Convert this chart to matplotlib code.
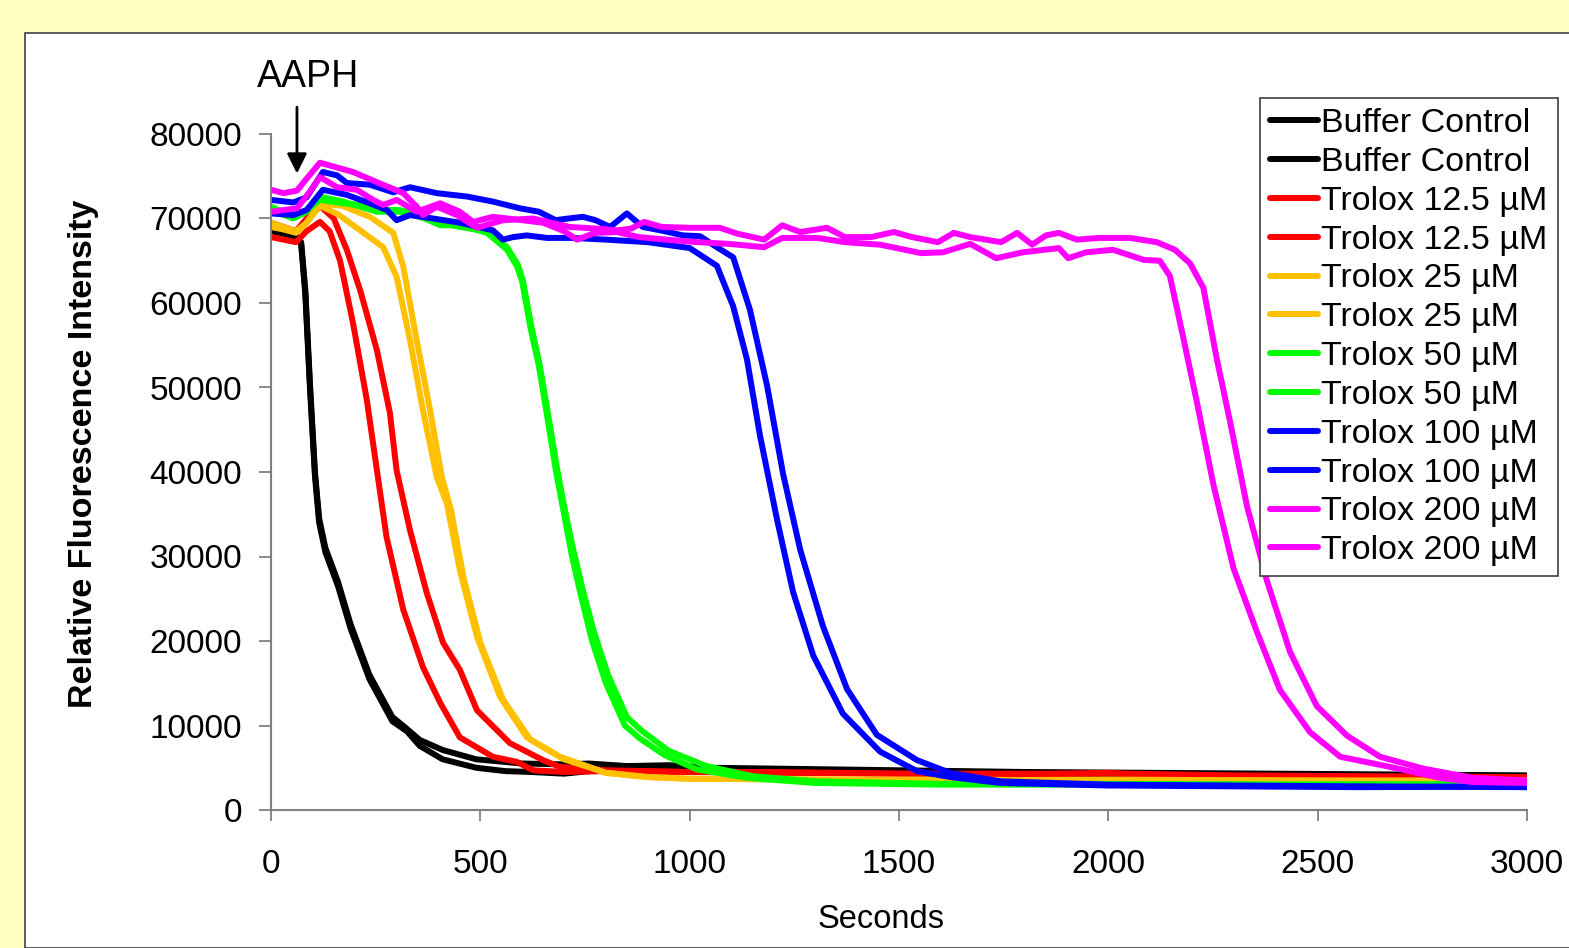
import matplotlib
matplotlib.use("Agg")
import matplotlib.pyplot as plt
from matplotlib.patches import Rectangle

plt.rcParams['font.family'] = ['Liberation Sans', 'DejaVu Sans']

# ---- data (seconds, relative fluorescence) ----
t_buffer1 = [0, 30, 60, 72, 82, 93, 105, 115, 130, 160, 190, 235, 290, 325, 355, 410, 490,
             560, 620, 700, 800, 900, 1000, 1200, 1500, 1800, 2100, 2400, 2700, 3000]
y_buffer1 = [69000, 68500, 68000, 67000, 61000, 50000, 39500, 34000, 30500, 26500, 21500, 15500,
             10500, 9300, 7600, 6000, 5000, 4600, 4500, 4300, 4800, 4600, 4700, 4600, 4400, 4300,
             4200, 4100, 4100, 4000]
t_buffer2 = [0, 30, 60, 72, 82, 93, 105, 115, 130, 160, 190, 235, 290, 320, 355, 410, 490,
             600, 700, 760, 850, 950, 1050, 1200, 1500, 1800, 2100, 2400, 2700, 3000]
y_buffer2 = [68500, 68200, 67800, 67200, 61500, 50500, 40000, 34500, 31000, 27000, 22000, 16000,
             11000, 9800, 8300, 7100, 6000, 5500, 5400, 5500, 5200, 5300, 5000, 4900, 4700, 4500,
             4400, 4300, 4200, 4100]

t_tr12a = [0, 30, 60, 85, 117, 140, 165, 196, 229, 253, 276, 316, 363, 404, 451, 530, 587, 626,
           700, 800, 1000, 1200, 1500, 1800, 2000, 2100, 2400, 2700, 3000]
y_tr12a = [67800, 67500, 67200, 68500, 69600, 68500, 65000, 57600, 48500, 40200, 32300, 23700,
           16900, 12700, 8600, 6300, 5700, 4700, 4500, 4600, 4500, 4400, 4300, 4200, 4400, 4100,
           4000, 3900, 3800]
t_tr12b = [0, 30, 60, 85, 117, 150, 181, 213, 253, 284, 300, 332, 372, 411, 451, 492, 571, 650,
           690, 800, 1000, 1200, 1500, 1800, 2050, 2300, 2600, 3000]
y_tr12b = [69500, 69000, 68500, 70000, 71500, 70000, 66300, 61500, 54400, 47000, 40200, 33100,
           25700, 19800, 16600, 11800, 7900, 5900, 5100, 4700, 4500, 4500, 4300, 4300, 4300, 4100,
           4000, 3900]

t_tr25a = [0, 30, 60, 85, 117, 160, 213, 268, 300, 332, 363, 396, 420, 451, 492, 547, 611, 690,
           800, 900, 1000, 1300, 1600, 2000, 2400, 2700, 3000]
y_tr25a = [69500, 69000, 68500, 69500, 71500, 70500, 68600, 66600, 63100, 55600, 47300, 39400,
           36300, 28400, 20500, 13400, 8600, 6300, 4400, 3900, 3700, 3600, 3500, 3600, 3500, 3400,
           3500]
t_tr25b = [0, 30, 60, 85, 117, 170, 236, 292, 316, 348, 380, 408, 430, 460, 500, 555, 620, 700,
           800, 900, 1000, 1300, 1600, 2000, 2400, 2700, 3000]
y_tr25b = [69000, 68700, 68300, 69500, 71800, 71500, 70200, 68300, 64300, 55600, 47300, 39400,
           35500, 27500, 19800, 13000, 8300, 6000, 4400, 3900, 3700, 3600, 3600, 3500, 3500, 3500,
           3500]

t_tr50a = [0, 53, 85, 117, 172, 213, 253, 308, 340, 404, 451, 516, 564, 588, 600, 620, 640, 660,
           681, 700, 719, 742, 767, 800, 845, 880, 940, 1017, 1137, 1300, 1600, 2000, 2400, 3000]
y_tr50a = [71400, 70200, 71000, 72200, 71800, 71600, 71000, 71000, 70600, 69200, 69200, 68300,
           66300, 64300, 62500, 57000, 52500, 46500, 40000, 35000, 30000, 25000, 20000, 15000,
           10000, 8500, 6500, 4800, 3800, 3200, 3000, 3000, 3000, 3000]
t_tr50b = [0, 53, 85, 117, 172, 213, 253, 308, 340, 404, 451, 516, 564, 590, 602, 622, 642, 662,
           683, 702, 722, 746, 772, 805, 850, 885, 950, 1040, 1150, 1300, 1600, 2000, 2400, 3000]
y_tr50b = [71000, 70000, 70800, 72600, 72000, 71400, 70800, 70800, 70400, 69500, 69000, 68500,
           66600, 64500, 62600, 57200, 52600, 46800, 40500, 35500, 30800, 25800, 21000, 16000,
           11000, 9400, 7000, 5200, 4000, 3400, 3100, 3100, 3000, 3100]

t_tr100a = [0, 53, 85, 124, 181, 236, 277, 300, 332, 387, 451, 530, 554, 578, 611, 659, 720, 800,
            900, 1000, 1025, 1065, 1104, 1137, 1168, 1209, 1247, 1295, 1366, 1455, 1543, 1622, 1741,
            2000, 2300, 2600, 3000]
y_tr100a = [70600, 70400, 71000, 73400, 72800, 71800, 71000, 69800, 70400, 70000, 69500, 68600,
            67500, 67800, 68000, 67700, 67700, 67500, 67200, 66500, 65700, 64400, 59600, 53300,
            44300, 34300, 25800, 18300, 11400, 6900, 4600, 3900, 3200, 2900, 2800, 2700, 2800]
t_tr100b = [0, 53, 85, 124, 158, 181, 236, 292, 332, 396, 468, 530, 595, 640, 680, 710, 745, 775,
            810, 850, 888, 940, 984, 1025, 1065, 1104, 1144, 1185, 1223, 1264, 1318, 1376, 1447,
            1543, 1622, 1741, 2000, 2300, 2600, 3000]
y_tr100b = [72200, 71900, 72500, 75500, 75100, 74200, 74000, 73100, 73700, 73000, 72600, 72000,
            71200, 70800, 69800, 70000, 70200, 69800, 69000, 70600, 69000, 68500, 68000, 67900,
            66600, 65400, 59200, 50200, 39800, 30800, 21800, 14300, 8900, 5900, 4400, 3400, 3000,
            2900, 2800, 2700]

t_tr200a = [0, 30, 62, 90, 117, 158, 205, 244, 268, 300, 348, 404, 451, 483, 530, 600, 650, 700,
            731, 774, 826, 879, 944, 1018, 1093, 1178, 1221, 1306, 1371, 1455, 1553, 1605, 1670,
            1732, 1796, 1882, 1904, 1947, 2011, 2085, 2123, 2147, 2179, 2211, 2251, 2299, 2354,
            2410, 2482, 2554, 2673, 2792, 2871, 3000]
y_tr200a = [70800, 71000, 71200, 73000, 74900, 73700, 73400, 72200, 71600, 72200, 70800, 71800,
            70800, 69600, 70200, 69800, 69500, 68500, 67500, 68300, 68400, 67800, 67500, 67200,
            67000, 66600, 67700, 67700, 67200, 66900, 65900, 66000, 67000, 65300, 66000, 66500,
            65300, 66000, 66300, 65100, 65000, 63200, 55900, 48400, 38500, 28600, 21200, 14200,
            9200, 6300, 5100, 3800, 3300, 3200]
t_tr200b = [0, 30, 62, 90, 117, 160, 196, 253, 316, 348, 363, 396, 444, 492, 554, 626, 714, 780,
            826, 860, 891, 933, 1000, 1072, 1114, 1178, 1221, 1264, 1328, 1371, 1433, 1488, 1531,
            1593, 1631, 1670, 1744, 1782, 1818, 1851, 1882, 1925, 1978, 2052, 2116, 2159, 2195,
            2227, 2259, 2291, 2331, 2379, 2434, 2498, 2570, 2649, 2752, 2871, 3000]
y_tr200b = [73400, 73000, 73300, 75000, 76600, 76000, 75500, 74300, 73000, 71400, 70400, 71400,
            70400, 68900, 69800, 70000, 69000, 68800, 68600, 68800, 69600, 69000, 68900, 68900,
            68200, 67500, 69200, 68400, 68900, 67800, 67800, 68400, 67800, 67200, 68300, 67800,
            67200, 68300, 66900, 68000, 68300, 67500, 67700, 67700, 67200, 66300, 64700, 61800,
            53400, 45900, 36000, 27100, 18700, 12300, 8800, 6300, 4900, 3800, 3500]

labels = ["Buffer Control", "Buffer Control", "Trolox 12.5 µM", "Trolox 12.5 µM",
          "Trolox 25 µM", "Trolox 25 µM", "Trolox 50 µM", "Trolox 50 µM",
          "Trolox 100 µM", "Trolox 100 µM", "Trolox 200 µM", "Trolox 200 µM"]
colors = ["#000000", "#000000", "#FF0000", "#FF0000", "#FFC000", "#FFC000",
          "#00FF00", "#00FF00", "#0000FF", "#0000FF", "#FF00FF", "#FF00FF"]

series = [(t_buffer1, y_buffer1), (t_buffer2, y_buffer2), (t_tr12a, y_tr12a), (t_tr12b, y_tr12b),
          (t_tr25a, y_tr25a), (t_tr25b, y_tr25b), (t_tr50a, y_tr50a), (t_tr50b, y_tr50b),
          (t_tr100a, y_tr100a), (t_tr100b, y_tr100b), (t_tr200a, y_tr200a), (t_tr200b, y_tr200b)]

W, H = 1569, 948
fig = plt.figure(figsize=(W / 100, H / 100), dpi=100)
fig.patch.set_facecolor("#FFFFC0")

# white panel behind the chart
fig.patches.append(Rectangle((25 / W, 0), 1.0, (H - 33) / H, transform=fig.transFigure,
                             facecolor="white", edgecolor="#404040", linewidth=1.2, zorder=-10))

ax = fig.add_axes([271 / W, (H - 810) / H, (1527 - 271) / W, (810 - 134) / H])
ax.set_facecolor("none")
ax.set_zorder(5)

for (t, y), lab, col in zip(series, labels, colors):
    ax.plot(t, y, color=col, lw=4.3, label=lab, solid_capstyle="round", solid_joinstyle="round")

ax.set_xlim(0, 3000)
ax.set_ylim(0, 80000)
ax.set_xticks(range(0, 3001, 500))
ax.set_yticks(range(0, 80001, 10000))

for side in ["top", "right"]:
    ax.spines[side].set_visible(False)
for side in ["left", "bottom"]:
    ax.spines[side].set_color("#808080")
    ax.spines[side].set_linewidth(1.5)

ax.tick_params(axis="y", direction="out", length=9, width=1.3, color="#808080",
               labelsize=24, pad=12)
ax.tick_params(axis="x", direction="out", length=8, width=1.3, color="#808080",
               labelsize=24, pad=20)

ax.set_xlabel("Seconds", fontsize=23.5)
ax.xaxis.set_label_coords(0.4857, -0.139)
ax.set_ylabel("Relative Fluorescence Intensity", fontsize=24.5, fontweight="bold")
ax.yaxis.set_label_coords(-0.137, 0.527)

# AAPH addition marker
ax.annotate("", xy=(62, 75000), xytext=(62, 83500),
            arrowprops=dict(arrowstyle="-|>", lw=2, color="black", mutation_scale=30),
            annotation_clip=False)
ax.text(88, 86700, "AAPH", fontsize=27, ha="center", va="center", clip_on=False)

leg = ax.legend(loc="upper left", bbox_to_anchor=(0.7874, 1.0533), fontsize=24.5,
                frameon=True, fancybox=False, framealpha=1, edgecolor="#404040",
                handlelength=1.4, handletextpad=0.1, labelspacing=0.23,
                borderpad=0.3, borderaxespad=0)
leg.get_frame().set_linewidth(1.2)
for h in leg.get_lines():
    h.set_linewidth(4.3)

fig.savefig("out.png", dpi=100, facecolor=fig.get_facecolor())
